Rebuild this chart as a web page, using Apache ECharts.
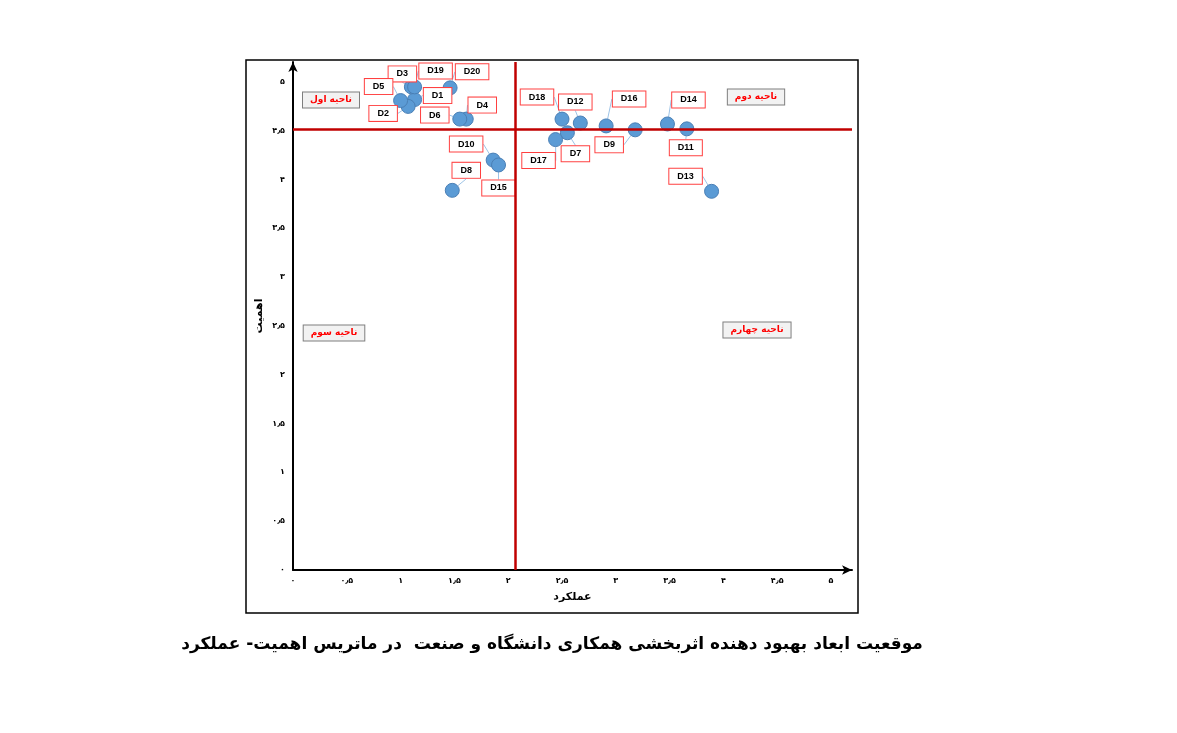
<!DOCTYPE html>
<html>
<head>
<meta charset="utf-8">
<script src="https://cdn.jsdelivr.net/npm/echarts@6/dist/echarts.min.js"></script>
<style>
html, body { margin: 0; padding: 0; background: #fff; }
#chart { width: 1177px; height: 733px; }
</style>
</head>
<body>
<div id="chart"></div>
<script>
// dimensions D1..D20
var names = ['D1','D2','D3','D4','D5','D6','D7','D8','D9','D10',
             'D11','D12','D13','D14','D15','D16','D17','D18','D19','D20'];
// عملکرد (x)
var performance = [1.13, 1.07, 1.10, 1.61, 1.00, 1.55, 2.55, 1.48, 3.18, 1.86,
                   3.66, 2.67, 3.89, 3.48, 1.91, 2.91, 2.44, 2.50, 1.13, 1.46];
// اهمیت (y)
var importance = [4.82, 4.75, 4.95, 4.62, 4.81, 4.62, 4.48, 3.89, 4.51, 4.20,
                  4.52, 4.58, 3.88, 4.57, 4.15, 4.55, 4.41, 4.62, 4.95, 4.94];
var tickLabels = ['۰','۰٫۵','۱','۱٫۵','۲','۲٫۵','۳','۳٫۵','۴','۴٫۵','۵'];
var meanPerformance = 2.07;
var meanImportance = 4.52;
var quadrantNames = ['ناحیه اول', 'ناحیه دوم', 'ناحیه سوم', 'ناحیه چهارم'];
var titleText = 'موقعیت ابعاد بهبود دهنده اثربخشی همکاری دانشگاه و صنعت  در ماتریس اهمیت- عملکرد';

// where each label box sits relative to its point (px)
var labelOffsets = [
    [23, -4], [-25, 7], [-9, -13], [16, -14], [-22, -14], [-25, -4], [8, 21], [14, -20], [-26, 15], [-27, -16],
    [-1, 19], [-5, -21], [-26, -15], [21, -24], [0, 23], [23, -27], [-17, 21], [-25, -22], [21, -16], [22, -16]
];

function tickFormatter(v) {
    var i = Math.round(v / 0.5);
    if (Math.abs(v - i * 0.5) > 1e-6 || i >= tickLabels.length) return '';
    return tickLabels[i];
}

var points = names.map(function (n, i) {
    return { name: n, value: [performance[i], importance[i]] };
});

var fontFa = "'DejaVu Sans', 'Noto Sans', sans-serif";

function quadrantBox(text, x, y) {
    return {
        type: 'text', x: x, y: y, z: 10,
        style: {
            text: text, align: 'center', verticalAlign: 'middle',
            fill: '#ff0000', font: 'bold 9px ' + fontFa,
            backgroundColor: '#f2f2f2', borderColor: '#7f7f7f', borderWidth: 1,
            padding: [3, 7]
        }
    };
}

var myChart = echarts.init(document.getElementById('chart'));
var option = {
    animation: false,
    grid: { left: 293, top: 62, right: 325, bottom: 163 },
    xAxis: {
        type: 'value', min: 0, max: 5.195, interval: 0.5,
        name: 'عملکرد', nameLocation: 'middle', nameGap: 22,
        nameTextStyle: { fontSize: 11, fontWeight: 'bold', color: '#000', fontFamily: fontFa },
        axisLine: { show: true, symbol: ['none', 'arrow'], symbolSize: [7, 10], lineStyle: { color: '#000', width: 2 } },
        axisTick: { show: false },
        splitLine: { show: false },
        axisLabel: { formatter: tickFormatter, showMaxLabel: false, margin: 7, fontSize: 8, fontWeight: 'bold', color: '#000', fontFamily: fontFa }
    },
    yAxis: {
        type: 'value', min: 0, max: 5.205, interval: 0.5,
        name: 'اهمیت', nameLocation: 'middle', nameGap: 28,
        nameTextStyle: { fontSize: 11, fontWeight: 'bold', color: '#000', fontFamily: fontFa },
        axisLine: { show: true, symbol: ['none', 'arrow'], symbolSize: [7, 10], lineStyle: { color: '#000', width: 2 } },
        axisTick: { show: false },
        splitLine: { show: false },
        axisLabel: { formatter: tickFormatter, showMaxLabel: false, margin: 8, fontSize: 8, fontWeight: 'bold', color: '#000', fontFamily: fontFa }
    },
    graphic: [
        {
            type: 'rect', z: -1,
            shape: { x: 246, y: 60, width: 612, height: 553 },
            style: { fill: 'none', stroke: '#000', lineWidth: 1.5 }
        },
        quadrantBox(quadrantNames[0], 331, 100),
        quadrantBox(quadrantNames[1], 756, 97),
        quadrantBox(quadrantNames[2], 334, 333),
        quadrantBox(quadrantNames[3], 757, 330),
        {
            type: 'text', x: 552, y: 645,
            style: {
                text: titleText, align: 'center', verticalAlign: 'middle',
                fill: '#000', font: 'bold 17px ' + fontFa
            }
        }
    ],
    series: [
        {
            type: 'scatter', z: 1, data: [], silent: true,
            markLine: {
                silent: true, symbol: ['none', 'none'],
                label: { show: false },
                lineStyle: { color: '#c00000', width: 2.5, type: 'solid' },
                data: [{ xAxis: meanPerformance }, { yAxis: meanImportance }]
            }
        },
        {
            type: 'scatter', z: 3,
            symbolSize: 14,
            itemStyle: { color: '#5b9bd5', borderColor: '#4a7fb5', borderWidth: 1, opacity: 1 },
            data: points,
            label: {
                show: true, position: 'inside',
                formatter: function (p) { return p.name; },
                color: '#000', fontWeight: 'bold', fontSize: 9, fontFamily: 'Arial, Liberation Sans, sans-serif',
                backgroundColor: '#fff', borderColor: '#ff4040', borderWidth: 1,
                padding: [3, 8]
            },
            labelLine: { show: true, lineStyle: { color: '#9dc3e6', width: 1 } },
            labelLayout: function (p) {
                var o = labelOffsets[p.dataIndex];
                return {
                    x: p.rect.x + p.rect.width / 2 + o[0],
                    y: p.rect.y + p.rect.height / 2 + o[1],
                    align: 'center', verticalAlign: 'middle'
                };
            }
        }
    ]
};
myChart.setOption(option);
</script>
</body>
</html>
